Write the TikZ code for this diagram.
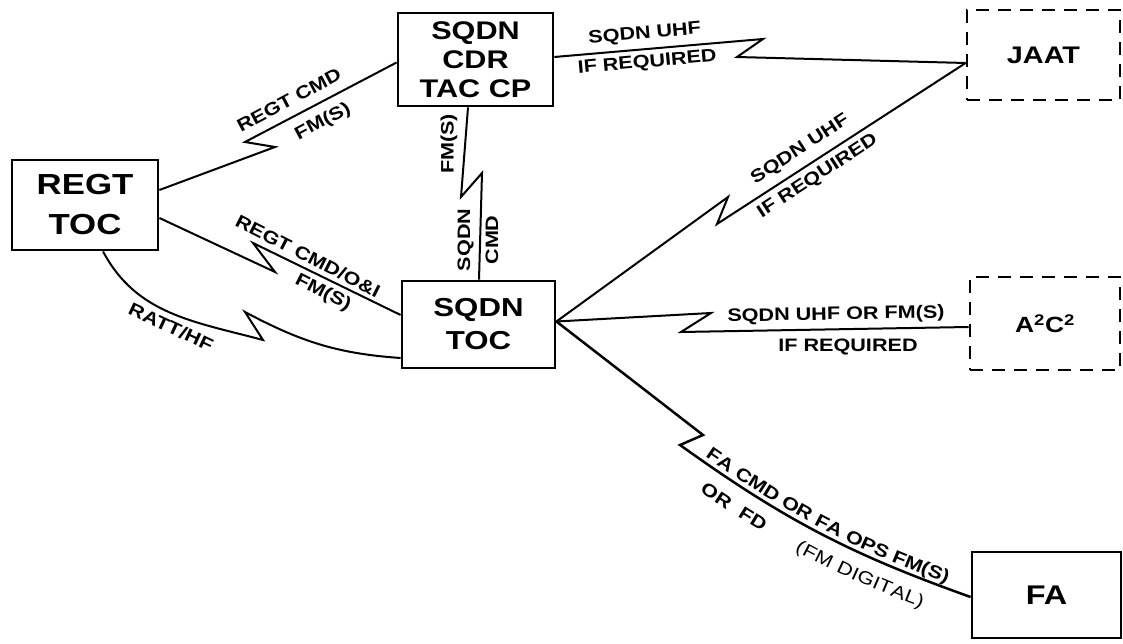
\documentclass[tikz,border=0pt]{standalone}
\usepackage{fontspec}
\setmainfont{Liberation Sans}[FakeStretch=1.2]
\usetikzlibrary{decorations.text}
\newcommand\linkfont{\fontsize{18}{30}\selectfont\bfseries}
\newcommand\boxfont[2]{\fontsize{#1}{#2}\selectfont\bfseries}

\begin{document}
\begin{tikzpicture}[x=1pt, y=1pt,
  unit/.style={draw, line width=2.8pt, inner sep=0pt, align=center},
  optional/.style={unit, dash pattern=on 13pt off 9pt},
  link/.style={line width=2pt, line join=miter, miter limit=20},
  tag/.style={inner sep=0pt, font=\linkfont, align=center}]
\useasboundingbox (0,0) rectangle (1123,643);

% command posts and supported elements
\node[unit, minimum width=146, minimum height=90, font=\boxfont{29}{40}] (regt) at (85,438) {REGT\\TOC};
\node[unit, minimum width=155, minimum height=93, font=\boxfont{25.5}{29}] (cdr) at (475.5,583.5) {SQDN\\CDR\\TAC CP};
\node[unit, minimum width=153, minimum height=87, font=\boxfont{26}{33}] (toc) at (478.5,318.5) {SQDN\\TOC};
\node[optional, minimum width=153, minimum height=90, font=\boxfont{24}{28}] (jaat) at (1043.5,588) {JAAT};
\node[optional, minimum width=150, minimum height=93, font=\boxfont{22}{28}] (a2c2) at (1045,319.5) {A\textsuperscript{2}C\textsuperscript{2}};
\node[unit, minimum width=149, minimum height=86, font=\boxfont{27}{28}] (fa) at (1046.5,48) {FA};

% shared end points
\coordinate (tocE) at ([yshift=3pt]toc.east);
\coordinate (jaatW) at ([yshift=-8pt]jaat.west);

% lightning-bolt jogs on the radio links
\coordinate (b1a) at (275,496); \coordinate (b1b) at (245,501);
\coordinate (b2a) at (461,446); \coordinate (b2b) at (482,470);
\coordinate (b3a) at (275,371); \coordinate (b3b) at (253,400);
\coordinate (b4a) at (263,303); \coordinate (b4b) at (245,331);
\coordinate (b5a) at (763,604); \coordinate (b5b) at (737,586);
\coordinate (b6a) at (728,446); \coordinate (b6b) at (717,419);
\coordinate (b7a) at (711,330); \coordinate (b7b) at (681,311);
\coordinate (b8a) at (703,208); \coordinate (b8b) at (680,198);

% radio links
\draw[link] ([yshift=15pt]regt.east) -- (b1a) -- (b1b) -- ([yshift=-3pt]cdr.west);
\draw[link] ([xshift=-7.5pt]cdr.south) -- (b2a) -- (b2b) -- ([xshift=0.5pt]toc.north);
\draw[link] ([yshift=-13pt]regt.east) -- (b3a) -- (b3b) -- ([yshift=9.5pt]toc.west);
\draw[link] ([xshift=18pt]regt.south) to[out=-62, in=165] (b4a) -- (b4b)
  to[out=-28, in=176] ([yshift=-33.5pt]toc.west);
\draw[link] ([yshift=2.5pt]cdr.east) -- (b5a) -- (b5b) -- (jaatW);
\draw[link] (tocE) -- (b6a) -- (b6b) -- (jaatW);
\draw[link] (tocE) -- (b7a) -- (b7b) -- ([yshift=-3.5pt]a2c2.west);
\draw[link, line width=2.5pt] (tocE) -- (b8a) -- (b8b) to[bend right=8] ([yshift=-2pt]fa.west);

% link labels
\node[tag, rotate=28] (l1) at (289,543) {REGT CMD};
\node[tag, rotate=28] (l2) at (323,521) {FM(S)};
\node[tag, rotate=90] (l3) at (449,499) {FM(S)};
\node[tag, rotate=90, font=\fontsize{18}{28}\selectfont\bfseries] (l4) at (478,403) {SQDN\\CMD};
\node[tag, rotate=-27] (l5) at (308,387) {REGT CMD/O\&I};
\node[tag, rotate=-27] (l6) at (323,350) {FM(S)};
\node[tag, rotate=-25] (l7) at (171,316) {RATT/HF};
\node[tag, rotate=5, font=\fontsize{18}{29}\selectfont\bfseries] (l8) at (646,594.5) {SQDN UHF\\IF REQUIRED};
\node[tag, rotate=33, font=\fontsize{18}{32}\selectfont\bfseries] (l10) at (809,480) {SQDN UHF\\IF REQUIRED};
\node[tag, rotate=1] (l12) at (836,328) {SQDN UHF OR FM(S)};
\node[tag] (l13) at (848,296) {IF REQUIRED};

% labels following the curved field artillery link
\path[decorate, decoration={text along path, text align=center, raise=5pt,
  text={|\linkfont|FA CMD OR FA OPS FM(S)}}]
  (b8b) to[bend right=8] ([yshift=-2pt]fa.west);
\path[decorate, decoration={text along path, text align=center, raise=-27pt,
  text={|\linkfont|OR{\ \ }FD{\ \ \ \ \ \ }|\linkfont\mdseries|(FM DIGITAL)}}]
  (b8b) to[bend right=8] ([yshift=-2pt]fa.west);
\end{tikzpicture}
\end{document}
